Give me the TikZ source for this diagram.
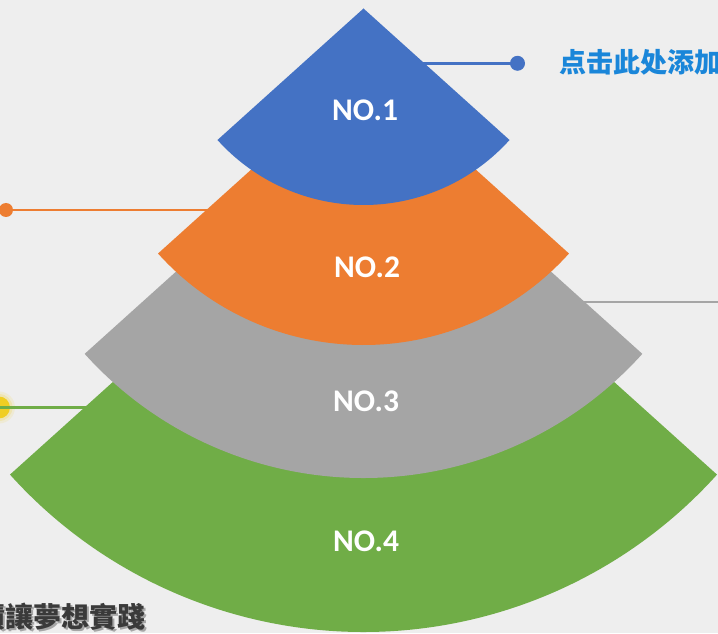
\documentclass[tikz,border=0pt]{standalone}
\usepackage{fontspec}
\setmainfont{Carlito}
\newfontfamily\cjksc{Noto Sans CJK SC}
\newfontfamily\cjktc{Noto Sans CJK TC}
\definecolor{bgc}{HTML}{EEEEEE}
\definecolor{cblue}{HTML}{4472C4}
\definecolor{corange}{HTML}{ED7D31}
\definecolor{cgray}{HTML}{A5A5A5}
\definecolor{cgreen}{HTML}{70AD47}
\definecolor{cyel}{HTML}{F0CE22}
\definecolor{ctext}{HTML}{1A86D9}
\definecolor{cdark}{HTML}{3A3A3A}
\begin{document}
\begin{tikzpicture}[x=1pt,y=1pt,
  conn/.style={line width=2.8pt},
  dotn/.style={circle,inner sep=0pt,minimum size=15pt},
  lab/.style={font=\bfseries\fontsize{31.5}{31.5}\selectfont,text=white,inner sep=0pt}]
\fill[bgc] (0,0) rectangle (718,633);
\useasboundingbox (0,0) rectangle (718,633);
% label anchors and apexes
\coordinate (c1) at (365,522.5);
\coordinate (c2) at (367,365.5);
\coordinate (c3) at (366,232);
\coordinate (c4) at (366,92);
\coordinate (a1) at (363.5,624.5);
\coordinate (a2) at (363.5,564.5);
\coordinate (a3) at (363.5,530.2);
\coordinate (a4) at (363.5,476.7);
% dots
\node[dotn,fill=cblue] (d1) at (517.5,569.7) {};
\node[dotn,fill=corange,minimum size=14pt] (d2) at (6,423) {};
\fill[cyel,opacity=0.12] (-1,225.5) circle (16pt);
\fill[cyel,opacity=0.2] (-1,225.5) circle (13.5pt);
\node[dotn,fill=cyel,minimum size=22pt] (d4) at (-1,225.5) {};
\coordinate (e3) at (718,331);
% connectors
\draw[conn,cblue] (d1.center) -- (d1.center -| c1);
\draw[conn,corange] (d2.center) -- (d2.center -| c2);
\draw[conn,cgray] (e3) -- (e3 -| c3);
\draw[conn,cgreen] (d4.center) -- (d4.center -| c4);
% sectors
\fill[cgreen] (a4) -- ++(222:475.7pt) arc[start angle=222,end angle=318,radius=475.7pt] -- cycle;
\fill[cgray] (a3) -- ++(222:375.2pt) arc[start angle=222,end angle=318,radius=375.2pt] -- cycle;
\fill[corange] (a2) -- ++(222:276.5pt) arc[start angle=222,end angle=318,radius=276.5pt] -- cycle;
\fill[cblue] (a1) -- ++(222:196.5pt) arc[start angle=222,end angle=318,radius=196.5pt] -- cycle;
% labels
\node[lab] (n1) at (c1) {NO.1};
\node[lab] (n2) at (c2) {NO.2};
\node[lab] (n3) at (c3) {NO.3};
\node[lab] (n4) at (c4) {NO.4};
% texts
\node[anchor=west,inner sep=0pt,text=ctext,font=\cjksc\bfseries\fontsize{27}{27}\selectfont] (t1) at (559,570.5) {点击此处添加};
\node[anchor=west,inner sep=0pt,text=black,opacity=0.3,font=\cjktc\bfseries\fontsize{28}{28}\selectfont] (t2s) at (-21,14.5) {積讓夢想實踐};
\node[anchor=west,inner sep=0pt,text=cdark,font=\cjktc\bfseries\fontsize{28}{28}\selectfont] (t2) at (-22.5,16) {積讓夢想實踐};
\end{tikzpicture}
\end{document}
